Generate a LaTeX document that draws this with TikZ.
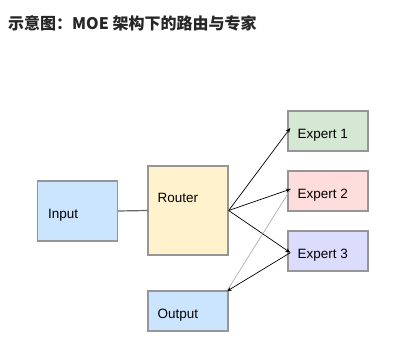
\documentclass[tikz,border=0pt]{standalone}
\usepackage{fontspec}
\setmainfont{Liberation Sans}
\newfontfamily\cjk{Noto Sans CJK SC}
\usetikzlibrary{arrows.meta,calc}

\definecolor{boxgray}{RGB}{150,150,150}
\definecolor{inblue}{RGB}{204,229,255}
\definecolor{routeryellow}{RGB}{255,242,204}
\definecolor{expgreen}{RGB}{213,232,212}
\definecolor{exppink}{RGB}{255,221,221}
\definecolor{expviolet}{RGB}{220,220,255}

\begin{document}
\begin{tikzpicture}[x=1pt, y=-1pt, >={Stealth[length=5pt,width=4pt]},
    box/.style={draw=boxgray, line width=1.4pt, minimum width=80pt, minimum height=40pt},
    lbl/.style={anchor=west, inner sep=0pt, font=\fontsize{13.5}{16}\selectfont},
    route/.style={->, line width=0.7pt, black}]

    % Frame of the picture
    \useasboundingbox (0,0) rectangle (398,350);

    % Title
    \node[anchor=west, inner sep=0pt, text=black!85] (title) at (8,23)
      {\fontsize{16}{19}\selectfont\cjk\bfseries 示意图：MOE 架构下的路由与专家};

    % Boxes
    \node[box, fill=inblue, minimum height=60pt] (input) at (77.5,211) {};
    \node[box, fill=routeryellow, minimum height=89pt] (router) at (188,210.5) {};
    \node[box, fill=expgreen] (e1) at (328,131) {};
    \node[box, fill=exppink] (e2) at (328,191) {};
    \node[box, fill=expviolet] (e3) at (328,251) {};
    \node[box, fill=inblue] (output) at (188,311) {};

    % Labels
    \node[lbl] (inputtext) at ($(input.west)+(11,4.5)$) {Input};
    \node[lbl] (routertext) at ($(router.west)+(10,-13)$) {Router};
    \node[lbl] (e1text) at ($(e1.west)+(10,4.5)$) {Expert 1};
    \node[lbl] (e2text) at ($(e2.west)+(10,4.5)$) {Expert 2};
    \node[lbl] (e3text) at ($(e3.west)+(10,4.5)$) {Expert 3};
    \node[lbl] (outputtext) at ($(output.west)+(10,4.5)$) {Output};

    % Arrow tips just inside the experts
    \coordinate (e1in) at ($(e1.west)+(3,-3)$);
    \coordinate (e2in) at ($(e2.west)+(3.5,-2)$);
    \coordinate (e3in) at ($(e3.west)+(3,1.7)$);
    \coordinate (outin) at ($(output.north east)+(-2,1)$);

    % Connectors
    \draw[line width=1.2pt, black!60] (input.east) -- (router.west);
    \draw[route] (router.east) -- (e1in);
    \draw[route] (router.east) -- (e2in);
    \draw[route] (router.east) -- (e3in);
    \draw[route] (e3in) -- (outin);
    \draw[line width=0.6pt, black!35] (outin) -- (e2in);
\end{tikzpicture}
\end{document}
